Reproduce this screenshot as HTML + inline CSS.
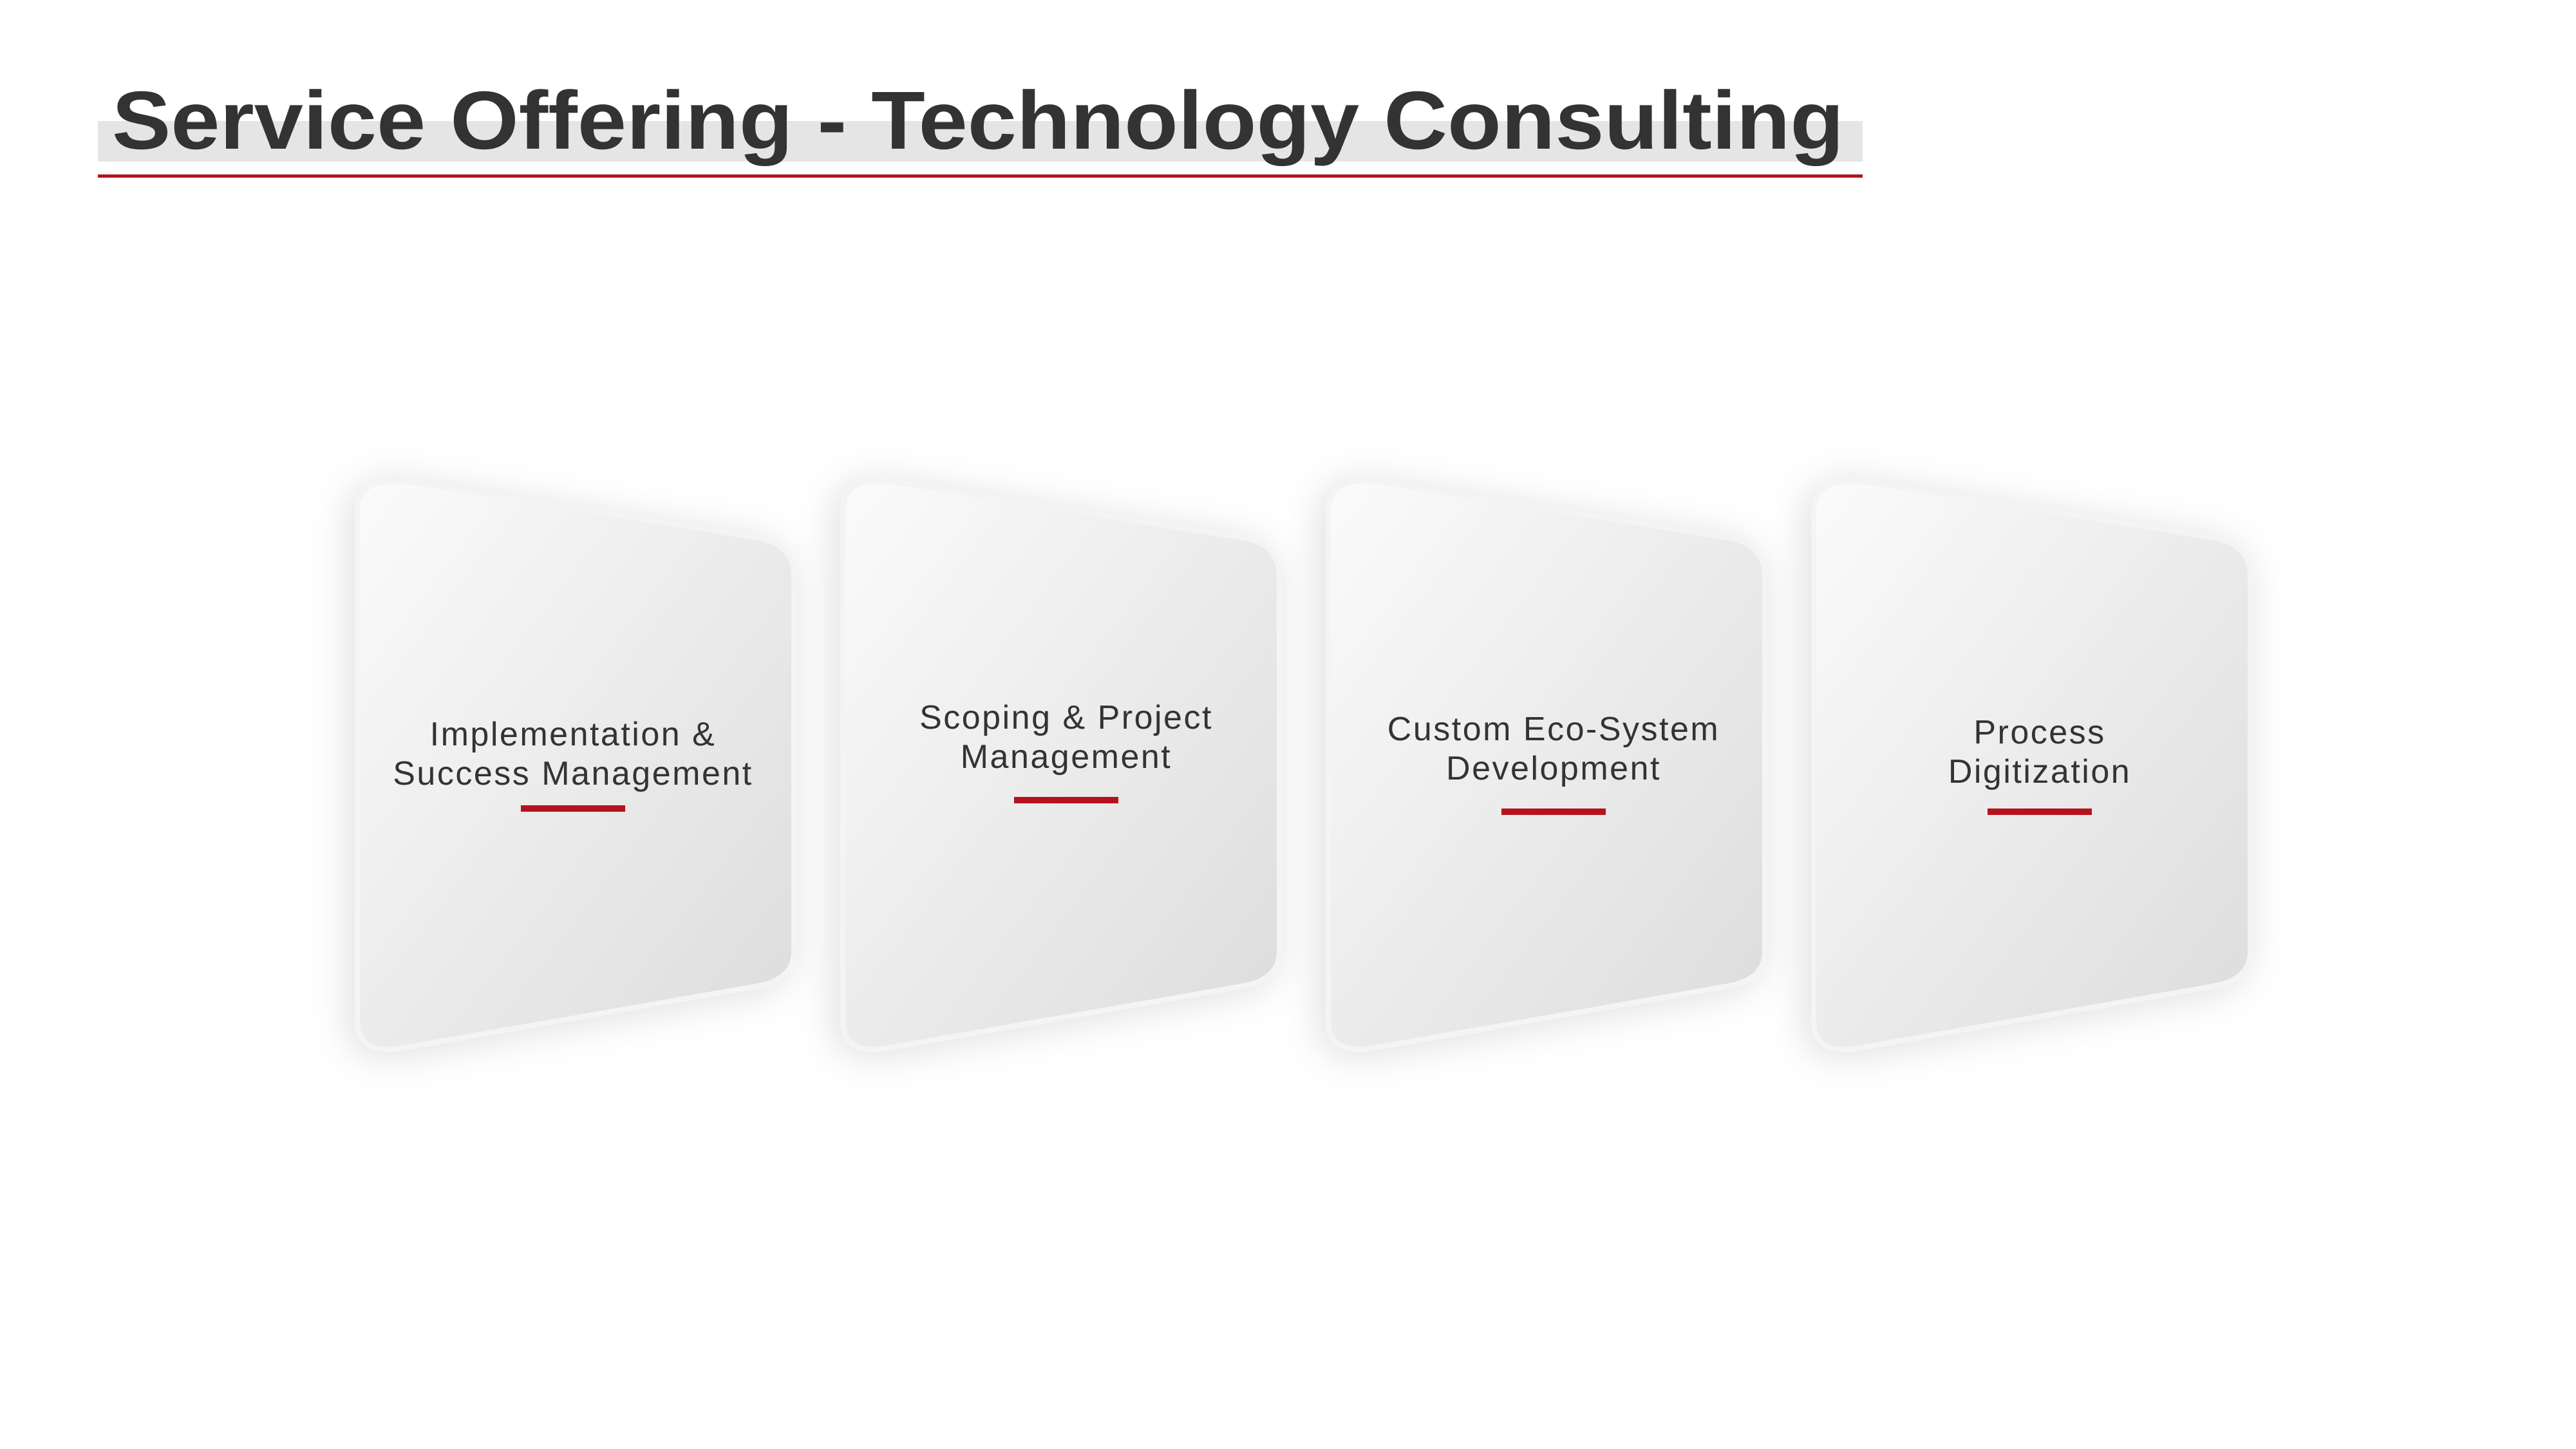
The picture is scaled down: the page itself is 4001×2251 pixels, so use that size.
<!DOCTYPE html>
<html><head><meta charset="utf-8"><style>
html,body{margin:0;padding:0;background:#fff;}
svg{display:block;}
</style></head><body>
<svg width="4001" height="2251" viewBox="0 0 4001 2251" xmlns="http://www.w3.org/2000/svg">
<defs>
<linearGradient id="g" x1="0" y1="0" x2="1" y2="1">
<stop offset="0" stop-color="#fbfbfb"/><stop offset="1" stop-color="#dcdcdc"/>
</linearGradient>
<filter id="sh" x="-20%" y="-20%" width="140%" height="140%">
<feDropShadow dx="-8" dy="6" stdDeviation="30" flood-color="#000" flood-opacity="0.13"/>
</filter>
</defs>
<rect x="152" y="188" width="2741" height="63" fill="#e5e5e5"/>
<text x="174" y="231" font-family="Liberation Sans, sans-serif" font-weight="bold" font-size="128" fill="#333" textLength="2690" lengthAdjust="spacingAndGlyphs">Service Offering - Technology Consulting</text>
<rect x="152" y="271" width="2741" height="5" fill="#b5121f"/>
<g id="cards"></g>
</svg>
<script>
const titles1=["Implementation &","Scoping & Project","Custom Eco-System","Process"];
const titles2=["Success Management","Management","Development","Digitization"];
const dy=[0,-26,-8,-3];
const barDy=[0,-13,5,5];
const dx=[-2,10,13,14];
const g=document.getElementById('cards');
const ns='http://www.w3.org/2000/svg';
for(let i=0;i<4;i++){
  const x=555+i*754;
  const grp=document.createElementNS(ns,'g');
  
  
  const p=document.createElementNS(ns,'path');
  p.setAttribute('d',`M${x},795 Q${x},742 ${x+70},747 L${x+620},835 Q${x+678},845 ${x+678},895 L${x+678},1478 Q${x+678},1522 ${x+620},1532 L${x+70},1628 Q${x},1640 ${x},1585 Z`);
  p.setAttribute('fill','url(#g)');p.setAttribute('stroke','#f4f4f4');p.setAttribute('stroke-width','8');
  p.setAttribute('filter','url(#sh)');
  
  
  grp.appendChild(p);
  const cx=x+337+dx[i];
  [titles1[i],titles2[i]].forEach((t,j)=>{
    const tx=document.createElementNS(ns,'text');
    tx.setAttribute('x',cx);tx.setAttribute('y',1158+dy[i]+j*61);
    tx.setAttribute('text-anchor','middle');
    tx.setAttribute('font-family','Liberation Sans, sans-serif');
    tx.setAttribute('font-size','52');tx.setAttribute('fill','#333');
    tx.setAttribute('letter-spacing','2.5');
    
    
    tx.textContent=t;grp.appendChild(tx);
  });
  const r=document.createElementNS(ns,'rect');
  r.setAttribute('x',cx-81);r.setAttribute('y',1251+barDy[i]);r.setAttribute('width',162);r.setAttribute('height',10);
  r.setAttribute('fill','#b5121f');
  
  
  grp.appendChild(r);
  g.appendChild(grp);
}
</script>
</body></html>
